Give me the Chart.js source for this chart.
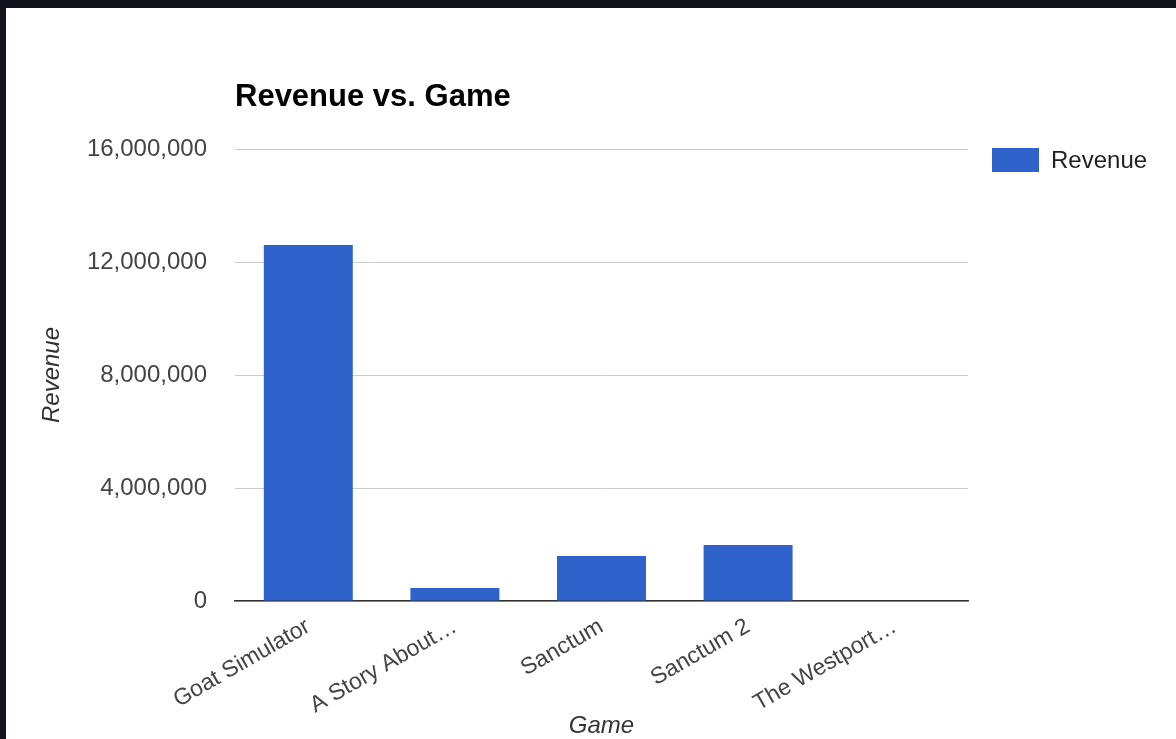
<!DOCTYPE html>
<html>
<head>
    <meta charset="UTF-8">
    <title>Revenue vs. Game</title>
    <script src="https://cdn.jsdelivr.net/npm/chart.js@4.4.1/dist/chart.umd.min.js"></script>
</head>
<style>
    html, body { margin: 0; padding: 0; background: #13141b; overflow: hidden; }
    #wrap { position: absolute; left: 6px; top: 8px; width: 1170px; height: 731px; background: #fff; }
</style>
<body>
    <div id="wrap"><canvas id="chart" width="1170" height="731"></canvas></div>

    <script>
        // data
        const games = ['Goat Simulator', 'A Story About…', 'Sanctum', 'Sanctum 2', 'The Westport…'];
        const revenue = [12600000, 460000, 1590000, 1980000, 0];
        const yMin = 0, yMax = 16000000, yStep = 4000000;

        const FONT = 'Arial, "Liberation Sans", sans-serif';
        const BLUE = '#2f63cb';

        // title + legend drawn like the google chart
        const decor = {
            id: 'decor',
            afterDraw(chart) {
                const ctx = chart.ctx;
                const area = chart.chartArea;
                ctx.save();
                ctx.fillStyle = '#000';
                ctx.font = 'bold 31px ' + FONT;
                ctx.textBaseline = 'alphabetic';
                ctx.textAlign = 'left';
                ctx.fillText('Revenue vs. Game', area.left, 98);

                ctx.fillStyle = BLUE;
                ctx.fillRect(986, 140, 47, 24);
                ctx.fillStyle = '#222';
                ctx.font = '24px ' + FONT;
                ctx.textBaseline = 'middle';
                ctx.fillText(chart.data.datasets[0].label, 1045, 153);
                ctx.restore();
            }
        };

        new Chart(document.getElementById('chart'), {
            type: 'bar',
            data: {
                labels: games,
                datasets: [{
                    label: 'Revenue',
                    data: revenue,
                    backgroundColor: BLUE,
                    categoryPercentage: 1.0,
                    barPercentage: 0.607
                }]
            },
            options: {
                responsive: false,
                animation: false,
                layout: { padding: { top: 141, right: 208, bottom: 0, left: 0 } },
                plugins: {
                    legend: { display: false },
                    title: { display: false },
                    tooltip: { enabled: false }
                },
                scales: {
                    x: {
                        grid: { display: false },
                        border: { display: true, color: '#333', width: 1.5 },
                        ticks: {
                            color: '#444',
                            font: { family: FONT, size: 23 },
                            minRotation: 30,
                            maxRotation: 30,
                            autoSkip: false,
                            padding: 4
                        },
                        title: {
                            display: true,
                            text: 'Game',
                            color: '#333',
                            font: { family: FONT, size: 24, style: 'italic' },
                            padding: { top: 0, bottom: -2 }
                        },
                        afterFit(scale) { scale.height = 138; }
                    },
                    y: {
                        min: yMin,
                        max: yMax,
                        grid: { color: '#ccc', drawTicks: false },
                        border: { display: false },
                        ticks: {
                            stepSize: yStep,
                            color: '#444',
                            padding: 28,
                            font: { family: FONT, size: 24 },
                            callback: v => v.toLocaleString('en-US')
                        },
                        title: {
                            display: true,
                            text: 'Revenue',
                            color: '#333',
                            font: { family: FONT, size: 24, style: 'italic' },
                            padding: { top: 32, bottom: 0 }
                        },
                        afterFit(scale) { scale.width = 229; }
                    }
                }
            },
            plugins: [decor]
        });
    </script>
</body>
</html>
